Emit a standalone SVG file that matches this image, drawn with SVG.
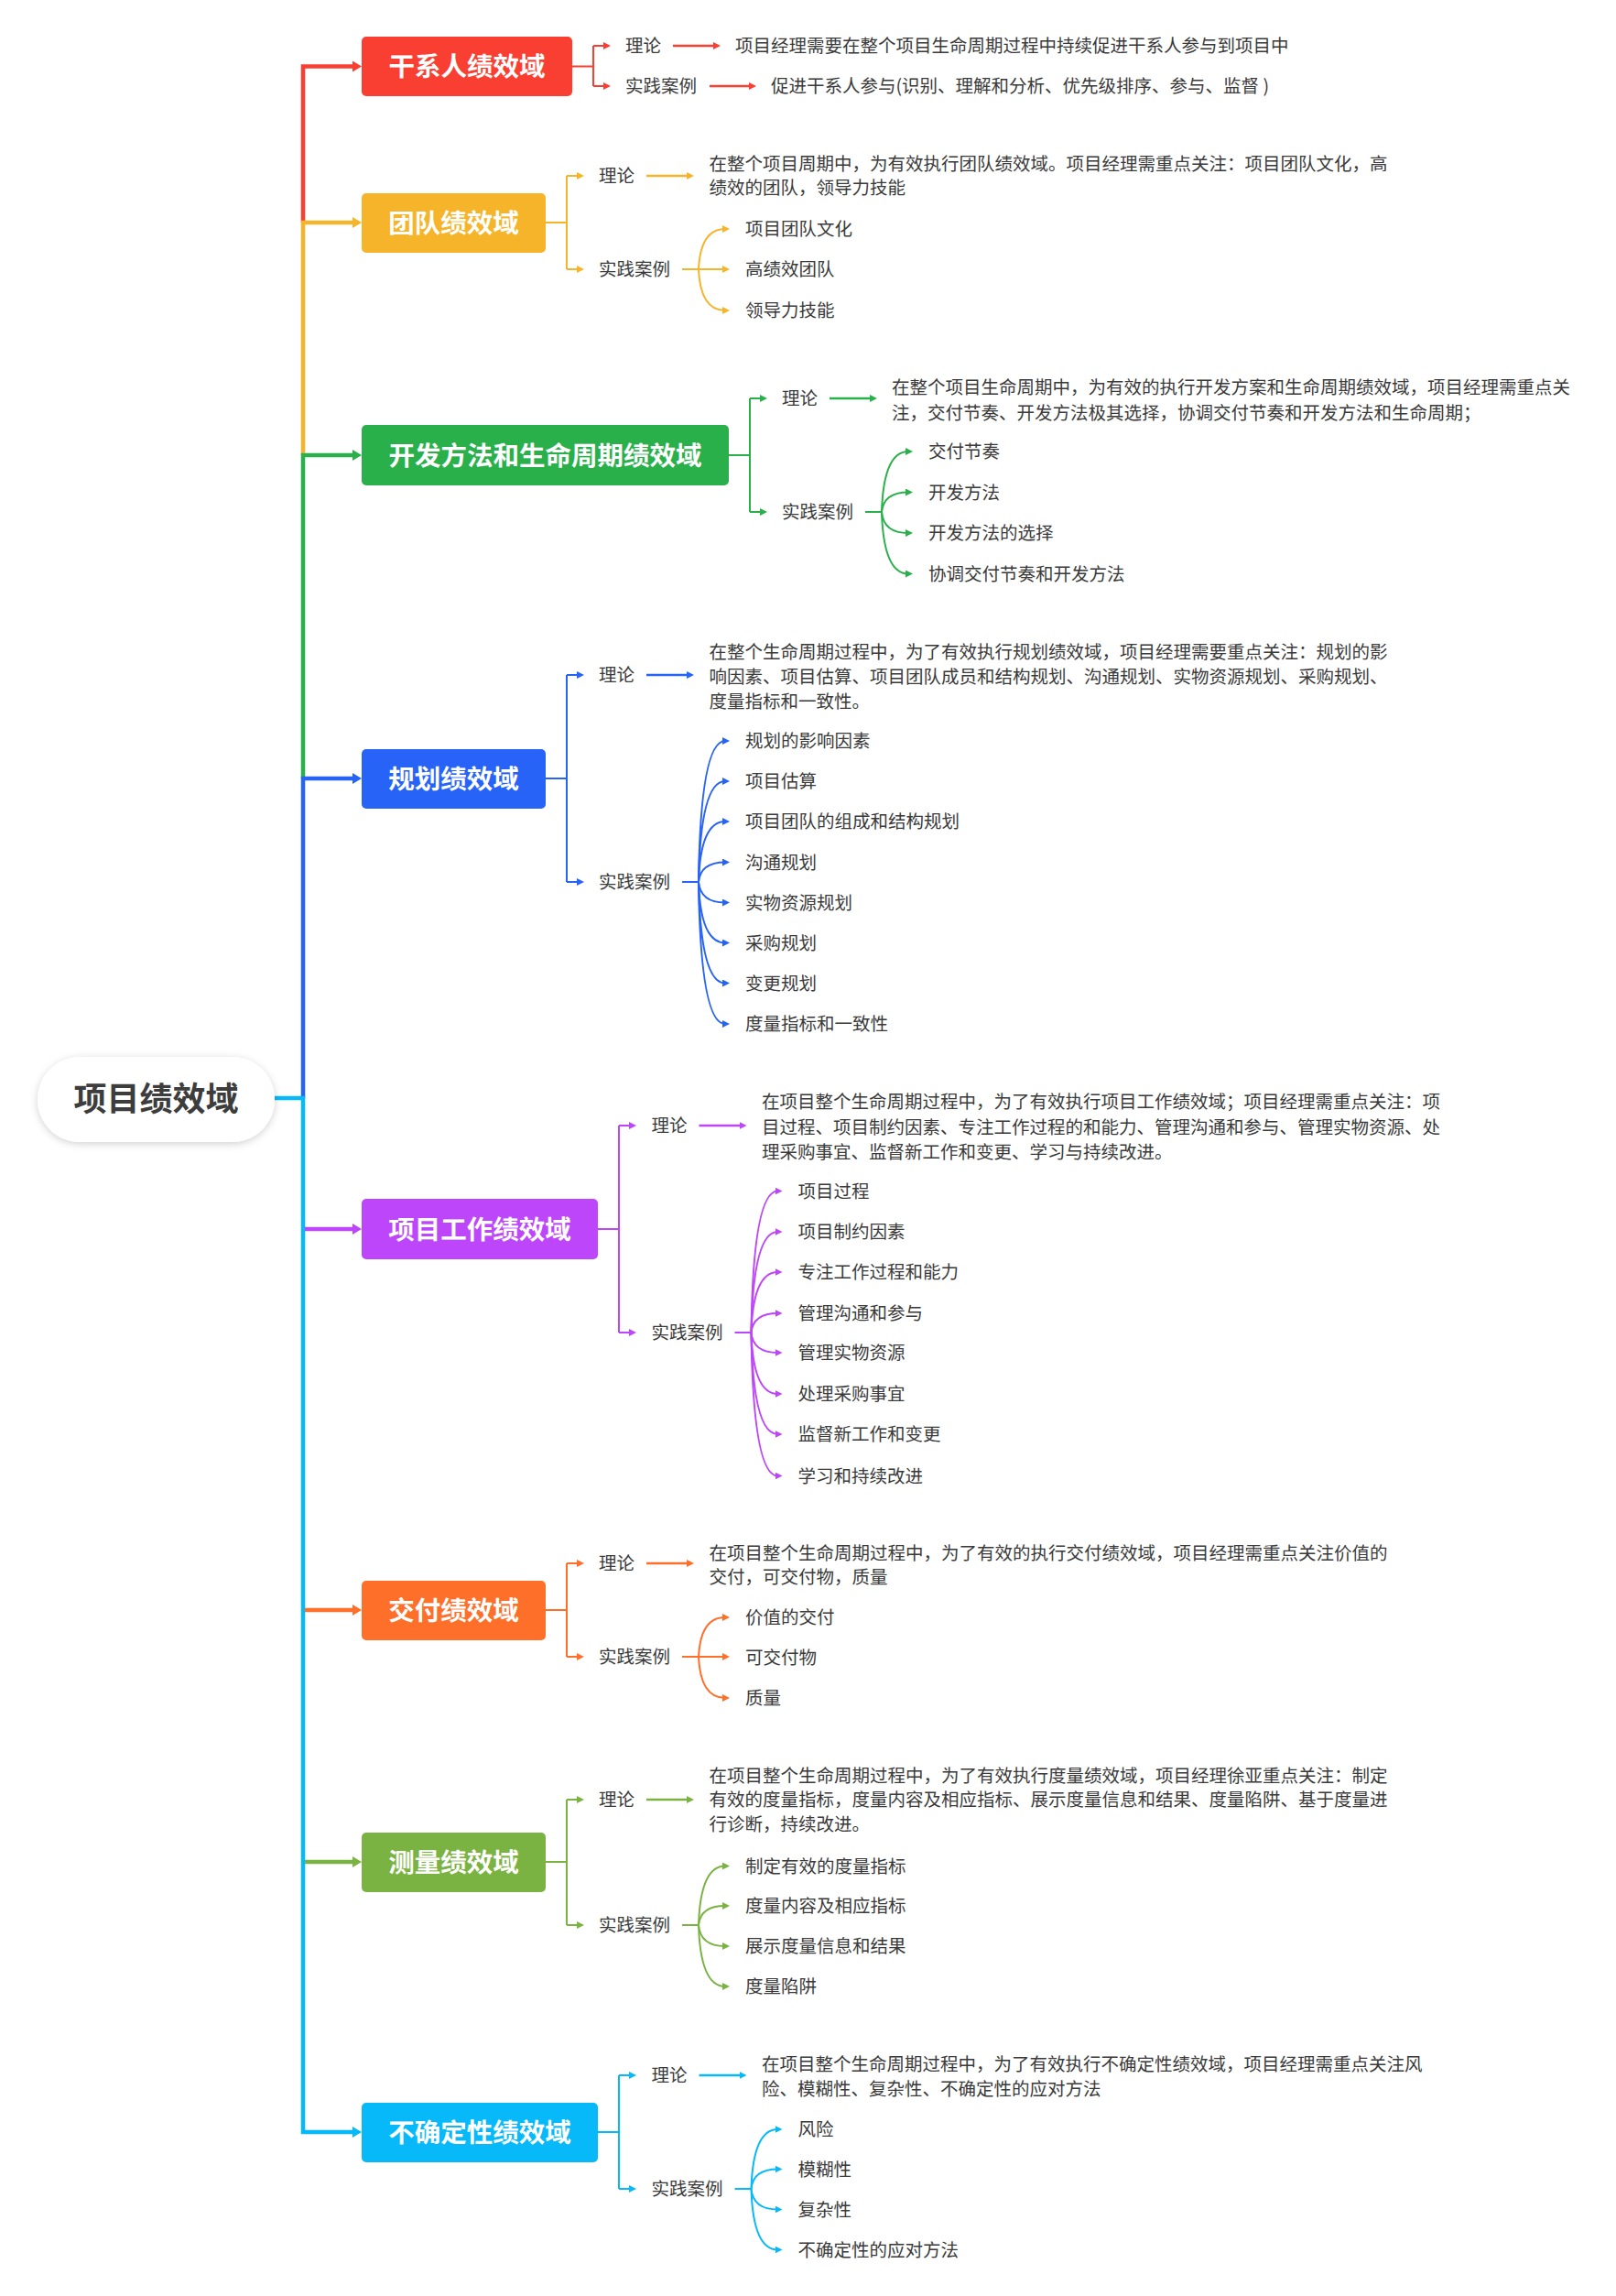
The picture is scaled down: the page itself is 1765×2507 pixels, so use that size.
<svg xmlns="http://www.w3.org/2000/svg" width="1765" height="2507" viewBox="0 0 1765 2507">
<style>
text{font-family:"Noto Sans CJK SC","Microsoft YaHei",sans-serif}
.t{font-size:19.5px;fill:#3a3a3a}
.n{font-size:28.5px;font-weight:700;fill:#fff;text-anchor:middle}
.root{font-size:36px;font-weight:700;fill:#3d3d3d;text-anchor:middle}
.trunk{fill:none;stroke-width:4.5;stroke-linejoin:miter}
.c{fill:none;stroke-width:2}
.ar{fill:none;stroke-width:2.5}
.red{stroke:#F83F32}.yel{stroke:#F6B42A}.grn{stroke:#29B04B}.blu{stroke:#2763F7}
.pur{stroke:#BD46FA}.org{stroke:#FE6F2A}.lgr{stroke:#7BB342}.cyn{stroke:#07B9F9}
</style>
<defs>
<filter id="sh" x="-20%" y="-30%" width="140%" height="160%"><feDropShadow dx="0" dy="2" stdDeviation="4" flood-color="#000" flood-opacity="0.18"/></filter>
<marker id="Mred" viewBox="0 0 10 12" refX="2" refY="6" markerWidth="10" markerHeight="12" markerUnits="userSpaceOnUse" orient="auto"><path d="M0,0L10,6L0,12z" fill="#F83F32"/></marker>
<marker id="Myel" viewBox="0 0 10 12" refX="2" refY="6" markerWidth="10" markerHeight="12" markerUnits="userSpaceOnUse" orient="auto"><path d="M0,0L10,6L0,12z" fill="#F6B42A"/></marker>
<marker id="Mgrn" viewBox="0 0 10 12" refX="2" refY="6" markerWidth="10" markerHeight="12" markerUnits="userSpaceOnUse" orient="auto"><path d="M0,0L10,6L0,12z" fill="#29B04B"/></marker>
<marker id="Mblu" viewBox="0 0 10 12" refX="2" refY="6" markerWidth="10" markerHeight="12" markerUnits="userSpaceOnUse" orient="auto"><path d="M0,0L10,6L0,12z" fill="#2763F7"/></marker>
<marker id="Mpur" viewBox="0 0 10 12" refX="2" refY="6" markerWidth="10" markerHeight="12" markerUnits="userSpaceOnUse" orient="auto"><path d="M0,0L10,6L0,12z" fill="#BD46FA"/></marker>
<marker id="Morg" viewBox="0 0 10 12" refX="2" refY="6" markerWidth="10" markerHeight="12" markerUnits="userSpaceOnUse" orient="auto"><path d="M0,0L10,6L0,12z" fill="#FE6F2A"/></marker>
<marker id="Mlgr" viewBox="0 0 10 12" refX="2" refY="6" markerWidth="10" markerHeight="12" markerUnits="userSpaceOnUse" orient="auto"><path d="M0,0L10,6L0,12z" fill="#7BB342"/></marker>
<marker id="Mcyn" viewBox="0 0 10 12" refX="2" refY="6" markerWidth="10" markerHeight="12" markerUnits="userSpaceOnUse" orient="auto"><path d="M0,0L10,6L0,12z" fill="#07B9F9"/></marker>
<marker id="ared" viewBox="0 0 8 8" refX="3" refY="4" markerWidth="8" markerHeight="8" markerUnits="userSpaceOnUse" orient="auto"><path d="M0,0L8,4L0,8z" fill="#F83F32"/></marker>
<marker id="ayel" viewBox="0 0 8 8" refX="3" refY="4" markerWidth="8" markerHeight="8" markerUnits="userSpaceOnUse" orient="auto"><path d="M0,0L8,4L0,8z" fill="#F6B42A"/></marker>
<marker id="agrn" viewBox="0 0 8 8" refX="3" refY="4" markerWidth="8" markerHeight="8" markerUnits="userSpaceOnUse" orient="auto"><path d="M0,0L8,4L0,8z" fill="#29B04B"/></marker>
<marker id="ablu" viewBox="0 0 8 8" refX="3" refY="4" markerWidth="8" markerHeight="8" markerUnits="userSpaceOnUse" orient="auto"><path d="M0,0L8,4L0,8z" fill="#2763F7"/></marker>
<marker id="apur" viewBox="0 0 8 8" refX="3" refY="4" markerWidth="8" markerHeight="8" markerUnits="userSpaceOnUse" orient="auto"><path d="M0,0L8,4L0,8z" fill="#BD46FA"/></marker>
<marker id="aorg" viewBox="0 0 8 8" refX="3" refY="4" markerWidth="8" markerHeight="8" markerUnits="userSpaceOnUse" orient="auto"><path d="M0,0L8,4L0,8z" fill="#FE6F2A"/></marker>
<marker id="algr" viewBox="0 0 8 8" refX="3" refY="4" markerWidth="8" markerHeight="8" markerUnits="userSpaceOnUse" orient="auto"><path d="M0,0L8,4L0,8z" fill="#7BB342"/></marker>
<marker id="acyn" viewBox="0 0 8 8" refX="3" refY="4" markerWidth="8" markerHeight="8" markerUnits="userSpaceOnUse" orient="auto"><path d="M0,0L8,4L0,8z" fill="#07B9F9"/></marker>
</defs>
<rect width="1765" height="2507" fill="#fff"/>

<g id="connectors">
<!-- trunk -->
<path class="trunk red" d="M331,243V72.5H387" marker-end="url(#Mred)"/>
<path class="trunk yel" d="M331,497V243H387" marker-end="url(#Myel)"/>
<path class="trunk grn" d="M331,850V497H387" marker-end="url(#Mgrn)"/>
<path class="trunk blu" d="M331,1199V850H387" marker-end="url(#Mblu)"/>
<path class="trunk cyn" d="M300,1199H331V2328H387" marker-end="url(#Mcyn)"/>
<path class="trunk pur" d="M333,1342H387" marker-end="url(#Mpur)"/>
<path class="trunk org" d="M333,1758H387" marker-end="url(#Morg)"/>
<path class="trunk lgr" d="M333,2033H387" marker-end="url(#Mlgr)"/>

<!-- red -->
<path class="c red" d="M625,72.5H648M648,50V94"/>
<path class="c red" d="M648,50H662" marker-end="url(#ared)"/>
<path class="c red" d="M648,94H662" marker-end="url(#ared)"/>
<path class="ar red" d="M735,50H782" marker-end="url(#ared)"/>
<path class="ar red" d="M775,94H821" marker-end="url(#ared)"/>

<!-- yellow -->
<path class="c yel" d="M596,243H619M619,192V294M745,294H763"/>
<path class="c yel" d="M619,192H633" marker-end="url(#ayel)"/>
<path class="c yel" d="M619,294H633" marker-end="url(#ayel)"/>
<path class="ar yel" d="M706,192H753" marker-end="url(#ayel)"/>
<path class="c yel" d="M763,294Q765,250 792,250" marker-end="url(#ayel)"/>
<path class="c yel" d="M763,294H792" marker-end="url(#ayel)"/>
<path class="c yel" d="M763,294Q765,339 792,339" marker-end="url(#ayel)"/>

<!-- green -->
<path class="c grn" d="M796,497H819M819,435V559M945,559H963"/>
<path class="c grn" d="M819,435H833" marker-end="url(#agrn)"/>
<path class="c grn" d="M819,559H833" marker-end="url(#agrn)"/>
<path class="ar grn" d="M906,435H953" marker-end="url(#agrn)"/>
<path class="c grn" d="M963,559Q965,493 992,493" marker-end="url(#agrn)"/>
<path class="c grn" d="M963,559Q965,537.5 992,537.5" marker-end="url(#agrn)"/>
<path class="c grn" d="M963,559Q965,582 992,582" marker-end="url(#agrn)"/>
<path class="c grn" d="M963,559Q965,626.5 992,626.5" marker-end="url(#agrn)"/>

<!-- blue -->
<path class="c blu" d="M596,850H619M619,737V963M745,963H763"/>
<path class="c blu" d="M619,737H633" marker-end="url(#ablu)"/>
<path class="c blu" d="M619,963H633" marker-end="url(#ablu)"/>
<path class="ar blu" d="M706,737H753" marker-end="url(#ablu)"/>
<path class="c blu" d="M763,963Q765,809 792,809" marker-end="url(#ablu)"/>
<path class="c blu" d="M763,963Q765,853 792,853" marker-end="url(#ablu)"/>
<path class="c blu" d="M763,963Q765,897 792,897" marker-end="url(#ablu)"/>
<path class="c blu" d="M763,963Q765,941.5 792,941.5" marker-end="url(#ablu)"/>
<path class="c blu" d="M763,963Q765,985.5 792,985.5" marker-end="url(#ablu)"/>
<path class="c blu" d="M763,963Q765,1029.5 792,1029.5" marker-end="url(#ablu)"/>
<path class="c blu" d="M763,963Q765,1073.5 792,1073.5" marker-end="url(#ablu)"/>
<path class="c blu" d="M763,963Q765,1118 792,1118" marker-end="url(#ablu)"/>

<!-- purple -->
<path class="c pur" d="M653,1342H676M676,1229V1455M802.5,1455H820.5"/>
<path class="c pur" d="M676,1229H690" marker-end="url(#apur)"/>
<path class="c pur" d="M676,1455H690" marker-end="url(#apur)"/>
<path class="ar pur" d="M763.5,1229H810.5" marker-end="url(#apur)"/>
<path class="c pur" d="M820.5,1455Q822.5,1300.5 849.5,1300.5" marker-end="url(#apur)"/>
<path class="c pur" d="M820.5,1455Q822.5,1345 849.5,1345" marker-end="url(#apur)"/>
<path class="c pur" d="M820.5,1455Q822.5,1389 849.5,1389" marker-end="url(#apur)"/>
<path class="c pur" d="M820.5,1455Q822.5,1434 849.5,1434" marker-end="url(#apur)"/>
<path class="c pur" d="M820.5,1455Q822.5,1477 849.5,1477" marker-end="url(#apur)"/>
<path class="c pur" d="M820.5,1455Q822.5,1522 849.5,1522" marker-end="url(#apur)"/>
<path class="c pur" d="M820.5,1455Q822.5,1566 849.5,1566" marker-end="url(#apur)"/>
<path class="c pur" d="M820.5,1455Q822.5,1611.5 849.5,1611.5" marker-end="url(#apur)"/>

<!-- orange -->
<path class="c org" d="M596,1758H619M619,1707V1809M745,1809H763"/>
<path class="c org" d="M619,1707H633" marker-end="url(#aorg)"/>
<path class="c org" d="M619,1809H633" marker-end="url(#aorg)"/>
<path class="ar org" d="M706,1707H753" marker-end="url(#aorg)"/>
<path class="c org" d="M763,1809Q765,1766 792,1766" marker-end="url(#aorg)"/>
<path class="c org" d="M763,1809H792" marker-end="url(#aorg)"/>
<path class="c org" d="M763,1809Q765,1854 792,1854" marker-end="url(#aorg)"/>

<!-- light green -->
<path class="c lgr" d="M596,2033H619M619,1965V2102M745,2102H763"/>
<path class="c lgr" d="M619,1965H633" marker-end="url(#algr)"/>
<path class="c lgr" d="M619,2102H633" marker-end="url(#algr)"/>
<path class="ar lgr" d="M706,1965H753" marker-end="url(#algr)"/>
<path class="c lgr" d="M763,2102Q765,2037.5 792,2037.5" marker-end="url(#algr)"/>
<path class="c lgr" d="M763,2102Q765,2081 792,2081" marker-end="url(#algr)"/>
<path class="c lgr" d="M763,2102Q765,2125 792,2125" marker-end="url(#algr)"/>
<path class="c lgr" d="M763,2102Q765,2169 792,2169" marker-end="url(#algr)"/>

<!-- cyan -->
<path class="c cyn" d="M653,2328H676M676,2266V2390M802.5,2390H820.5"/>
<path class="c cyn" d="M676,2266H690" marker-end="url(#acyn)"/>
<path class="c cyn" d="M676,2390H690" marker-end="url(#acyn)"/>
<path class="ar cyn" d="M763.5,2266H810.5" marker-end="url(#acyn)"/>
<path class="c cyn" d="M820.5,2390Q822.5,2325 849.5,2325" marker-end="url(#acyn)"/>
<path class="c cyn" d="M820.5,2390Q822.5,2368.5 849.5,2368.5" marker-end="url(#acyn)"/>
<path class="c cyn" d="M820.5,2390Q822.5,2412.5 849.5,2412.5" marker-end="url(#acyn)"/>
<path class="c cyn" d="M820.5,2390Q822.5,2456.5 849.5,2456.5" marker-end="url(#acyn)"/>
</g>

<g id="root">
<rect x="41" y="1154" width="259" height="93" rx="46.5" fill="#fff" filter="url(#sh)"/>
<text class="root" x="170.5" y="1212.5">项目绩效域</text>
</g>

<g id="n-red">
<rect x="395" y="40" width="230" height="65" rx="5" fill="#F83F32"/>
<text class="n" x="510" y="83.3">干系人绩效域</text>
<text class="t" x="683" y="57.4">理论</text>
<text class="t" x="683" y="101.4">实践案例</text>
<text class="t" x="803" y="57.4">项目经理需要在整个项目生命周期过程中持续促进干系人参与到项目中</text>
<text class="t" x="842" y="101.4">促进干系人参与(识别、理解和分析、优先级排序、参与、监督 )</text>
</g>

<g id="n-team">
<rect x="395" y="211" width="201" height="65" rx="5" fill="#F6B42A"/>
<text class="n" x="495.5" y="253.8">团队绩效域</text>
<text class="t" x="654" y="199.4">理论</text>
<text class="t" x="654" y="301.4">实践案例</text>
<text class="t" x="774.5" y="186.4">在整个项目周期中，为有效执行团队绩效域。项目经理需重点关注：项目团队文化，高</text>
<text class="t" x="774.5" y="212.4">绩效的团队，领导力技能</text>
<text class="t" x="814" y="257.4">项目团队文化</text>
<text class="t" x="814" y="301.4">高绩效团队</text>
<text class="t" x="814" y="346.4">领导力技能</text>
</g>

<g id="n-dev">
<rect x="395" y="464" width="401" height="66" rx="5" fill="#29B04B"/>
<text class="n" x="595.5" y="507.8">开发方法和生命周期绩效域</text>
<text class="t" x="854" y="442.4">理论</text>
<text class="t" x="854" y="566.4">实践案例</text>
<text class="t" x="974" y="430.4">在整个项目生命周期中，为有效的执行开发方案和生命周期绩效域，项目经理需重点关</text>
<text class="t" x="974" y="457.9">注，交付节奏、开发方法极其选择，协调交付节奏和开发方法和生命周期；</text>
<text class="t" x="1014" y="500.4">交付节奏</text>
<text class="t" x="1014" y="544.9">开发方法</text>
<text class="t" x="1014" y="589.4">开发方法的选择</text>
<text class="t" x="1014" y="633.9">协调交付节奏和开发方法</text>
</g>

<g id="n-plan">
<rect x="395" y="818" width="201" height="65" rx="5" fill="#2763F7"/>
<text class="n" x="495.5" y="860.8">规划绩效域</text>
<text class="t" x="654" y="744.4">理论</text>
<text class="t" x="654" y="970.4">实践案例</text>
<text class="t" x="774.5" y="718.9">在整个生命周期过程中，为了有效执行规划绩效域，项目经理需要重点关注：规划的影</text>
<text class="t" x="774.5" y="746.4">响因素、项目估算、项目团队成员和结构规划、沟通规划、实物资源规划、采购规划、</text>
<text class="t" x="774.5" y="772.9">度量指标和一致性。</text>
<text class="t" x="814" y="816.4">规划的影响因素</text>
<text class="t" x="814" y="860.4">项目估算</text>
<text class="t" x="814" y="904.4">项目团队的组成和结构规划</text>
<text class="t" x="814" y="948.9">沟通规划</text>
<text class="t" x="814" y="992.9">实物资源规划</text>
<text class="t" x="814" y="1036.9">采购规划</text>
<text class="t" x="814" y="1080.9">变更规划</text>
<text class="t" x="814" y="1125.4">度量指标和一致性</text>
</g>

<g id="n-work">
<rect x="395" y="1309" width="258" height="66" rx="5" fill="#BD46FA"/>
<text class="n" x="524" y="1352.8">项目工作绩效域</text>
<text class="t" x="711.5" y="1236.4">理论</text>
<text class="t" x="711.5" y="1462.4">实践案例</text>
<text class="t" x="832" y="1210.4">在项目整个生命周期过程中，为了有效执行项目工作绩效域；项目经理需重点关注：项</text>
<text class="t" x="832" y="1237.9">目过程、项目制约因素、专注工作过程的和能力、管理沟通和参与、管理实物资源、处</text>
<text class="t" x="832" y="1264.9">理采购事宜、监督新工作和变更、学习与持续改进。</text>
<text class="t" x="871.5" y="1307.9">项目过程</text>
<text class="t" x="871.5" y="1352.4">项目制约因素</text>
<text class="t" x="871.5" y="1396.4">专注工作过程和能力</text>
<text class="t" x="871.5" y="1441.4">管理沟通和参与</text>
<text class="t" x="871.5" y="1484.4">管理实物资源</text>
<text class="t" x="871.5" y="1529.4">处理采购事宜</text>
<text class="t" x="871.5" y="1573.4">监督新工作和变更</text>
<text class="t" x="871.5" y="1618.9">学习和持续改进</text>
</g>

<g id="n-deliver">
<rect x="395" y="1726" width="201" height="65" rx="5" fill="#FE6F2A"/>
<text class="n" x="495.5" y="1768.8">交付绩效域</text>
<text class="t" x="654" y="1714.4">理论</text>
<text class="t" x="654" y="1816.4">实践案例</text>
<text class="t" x="774.5" y="1702.9">在项目整个生命周期过程中，为了有效的执行交付绩效域，项目经理需重点关注价值的</text>
<text class="t" x="774.5" y="1729.4">交付，可交付物，质量</text>
<text class="t" x="814" y="1773.4">价值的交付</text>
<text class="t" x="814" y="1817.4">可交付物</text>
<text class="t" x="814" y="1861.4">质量</text>
</g>

<g id="n-measure">
<rect x="395" y="2001" width="201" height="65" rx="5" fill="#7BB342"/>
<text class="n" x="495.5" y="2043.8">测量绩效域</text>
<text class="t" x="654" y="1972.4">理论</text>
<text class="t" x="654" y="2109.4">实践案例</text>
<text class="t" x="774.5" y="1945.9">在项目整个生命周期过程中，为了有效执行度量绩效域，项目经理徐亚重点关注：制定</text>
<text class="t" x="774.5" y="1972.4">有效的度量指标，度量内容及相应指标、展示度量信息和结果、度量陷阱、基于度量进</text>
<text class="t" x="774.5" y="1998.9">行诊断，持续改进。</text>
<text class="t" x="814" y="2044.9">制定有效的度量指标</text>
<text class="t" x="814" y="2088.4">度量内容及相应指标</text>
<text class="t" x="814" y="2132.4">展示度量信息和结果</text>
<text class="t" x="814" y="2176.4">度量陷阱</text>
</g>

<g id="n-uncert">
<rect x="395" y="2296" width="258" height="65" rx="5" fill="#07B9F9"/>
<text class="n" x="524" y="2338.8">不确定性绩效域</text>
<text class="t" x="711.5" y="2273.4">理论</text>
<text class="t" x="711.5" y="2397.4">实践案例</text>
<text class="t" x="832" y="2261.4">在项目整个生命周期过程中，为了有效执行不确定性绩效域，项目经理需重点关注风</text>
<text class="t" x="832" y="2288.4">险、模糊性、复杂性、不确定性的应对方法</text>
<text class="t" x="871.5" y="2332.4">风险</text>
<text class="t" x="871.5" y="2375.9">模糊性</text>
<text class="t" x="871.5" y="2419.9">复杂性</text>
<text class="t" x="871.5" y="2463.9">不确定性的应对方法</text>
</g>
</svg>
